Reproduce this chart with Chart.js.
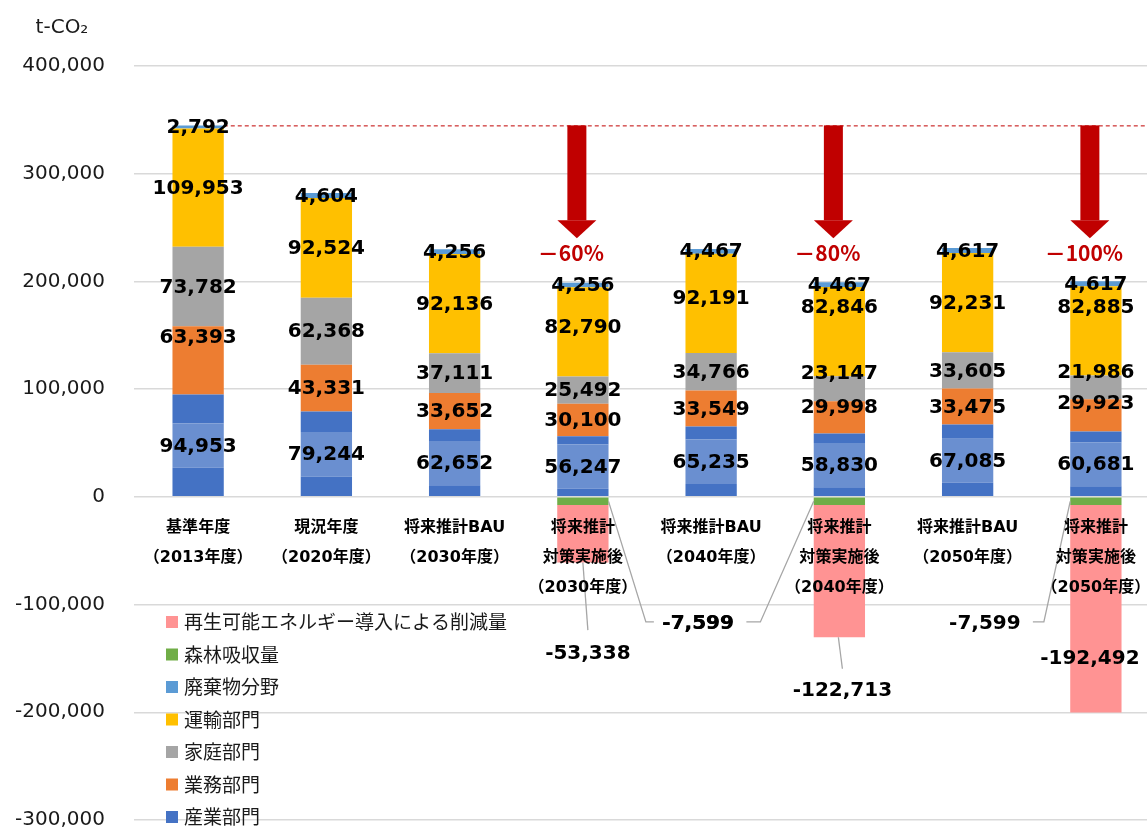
<!DOCTYPE html>
<html><head><meta charset="utf-8">
<script src="https://cdn.jsdelivr.net/npm/chart.js@4.4.1/dist/chart.umd.min.js"></script>
<style>
html,body{margin:0;padding:0;background:#fff;overflow:hidden;width:1147px;height:828px;}
canvas{display:block;}
</style></head>
<body><canvas id="c" width="1162" height="861"></canvas>
<script>
// ---- data ----
const categories = [
  ['基準年度','（2013年度）'],
  ['現況年度','（2020年度）'],
  ['将来推計BAU','（2030年度）'],
  ['将来推計','対策実施後','（2030年度）'],
  ['将来推計BAU','（2040年度）'],
  ['将来推計','対策実施後','（2040年度）'],
  ['将来推計BAU','（2050年度）'],
  ['将来推計','対策実施後','（2050年度）']
];
const industryTotal  = [94953, 79244, 62652, 56247, 65235, 58830, 67085, 60681];
const industryLower  = [27000, 19000, 10800, 7500, 12000, 8900, 13000, 9800];
const industryMiddle = [41000, 41200, 41000, 41000, 41200, 41000, 41000, 41000];
const industryUpper  = [26953, 19044, 10852, 7747, 12035, 8930, 13085, 9881];
const commercial = [63393, 43331, 33652, 30100, 33549, 29998, 33475, 29923];
const household  = [73782, 62368, 37111, 25492, 34766, 23147, 33605, 21986];
const transport  = [109953, 92524, 92136, 82790, 92191, 82846, 92231, 82885];
const waste      = [2792, 4604, 4256, 4256, 4467, 4467, 4617, 4617];
const forest     = [null, null, null, -7599, null, -7599, null, -7599];
const renewable  = [null, null, null, -53338, null, -122713, null, -192492];
const reductionRate = [null, null, null, '－60%', null, '－80%', null, '－100%'];
const yTicks = [-300000, -200000, -100000, 0, 100000, 200000, 300000, 400000];
const unitLabel = 't-CO₂';

const fmt = v => (v < 0 ? '-' : '') + Math.abs(v).toLocaleString('en-US');
const LATIN = '"DejaVu Sans", "Noto Sans CJK JP", sans-serif';
const CJK = '"Noto Sans CJK JP", "DejaVu Sans", sans-serif';

// manual label nudges (px) as placed in the original
const labelNudge = {
  com: {0:-24, 5:-11, 7:-13},
  hh:  {5:-16, 7:-16},
  tr:  {3:-5, 4:-6, 5:-25, 7:-24}
};

const datasets = [
  {key:'indL', label:'産業部門', data: industryLower, backgroundColor:'#4472C4', legend:false},
  {key:'indM', label:'産業部門', data: industryMiddle, backgroundColor:'#6A8FD0', legend:false, labels: industryTotal},
  {key:'indU', label:'産業部門', data: industryUpper, backgroundColor:'#4472C4', legend:true, legendColor:'#4472C4'},
  {key:'com', label:'業務部門', data: commercial, backgroundColor:'#ED7D31', legend:true, labels: commercial},
  {key:'hh', label:'家庭部門', data: household, backgroundColor:'#A5A5A5', legend:true, labels: household},
  {key:'tr', label:'運輸部門', data: transport, backgroundColor:'#FFC000', legend:true, labels: transport},
  {key:'ws', label:'廃棄物分野', data: waste, backgroundColor:'#5B9BD5', legend:true, labels: waste},
  {key:'fo', label:'森林吸収量', data: forest, backgroundColor:'#70AD47', legend:true},
  {key:'re', label:'再生可能エネルギー導入による削減量', data: renewable, backgroundColor:'#FF9393', legend:true}
];

const overlay = {
  id:'overlay',
  afterDatasetsDraw(chart){
    const ctx = chart.ctx, xs = chart.scales.x, ys = chart.scales.y, area = chart.chartArea;
    const metaOf = k => chart.getDatasetMeta(chart.data.datasets.findIndex(d=>d.key===k));
    ctx.save();
    const baseTotal = industryTotal[0]+commercial[0]+household[0]+transport[0]+waste[0];
    const yb = ys.getPixelForValue(baseTotal);
    const bar0 = metaOf('ws').data[0];
    ctx.strokeStyle = '#C00000'; ctx.lineWidth = 1; ctx.setLineDash([4,3]);
    ctx.beginPath(); ctx.moveTo(bar0.x + bar0.width/2, yb+0.5); ctx.lineTo(area.right, yb+0.5); ctx.stroke();
    ctx.setLineDash([]);
    reductionRate.forEach((r,i)=>{
      if(!r) return;
      const cx = xs.getPixelForValue(i) - 6;
      const tipY = ys.getPixelForValue(240000);
      const headBase = tipY - 18;
      ctx.fillStyle = '#C00000';
      ctx.fillRect(cx-9.5, yb, 19, headBase - yb);
      ctx.beginPath(); ctx.moveTo(cx-19.5, headBase); ctx.lineTo(cx+19.5, headBase); ctx.lineTo(cx, tipY); ctx.closePath(); ctx.fill();
      ctx.font = 'bold 21px ' + CJK; ctx.textAlign='center'; ctx.textBaseline='middle';
      ctx.fillText(r, cx - 6, ys.getPixelForValue(226500));
    });
    ctx.fillStyle = '#000'; ctx.font = 'bold 20px ' + LATIN; ctx.textAlign='center'; ctx.textBaseline='middle';
    chart.data.datasets.forEach((ds, di)=>{
      if(!ds.labels) return;
      const meta = chart.getDatasetMeta(di);
      const nud = labelNudge[ds.key] || {};
      meta.data.forEach((el, i)=>{
        if(ds.data[i]==null) return;
        ctx.fillText(fmt(ds.labels[i]), el.x, (el.y + el.base)/2 + 1 + (nud[i]||0));
      });
    });
    ctx.strokeStyle = '#A6A6A6'; ctx.lineWidth = 1.3;
    const fo = metaOf('fo'), re = metaOf('re');
    const line = pts => { ctx.beginPath(); ctx.moveTo(pts[0][0],pts[0][1]); pts.slice(1).forEach(p=>ctx.lineTo(p[0],p[1])); ctx.stroke(); };
    const fy = ys.getPixelForValue(-118000);
    let e = fo.data[3];
    line([[e.x+e.width/2, (e.y+e.base)/2],[e.x+63, fy-2],[e.x+71, fy-2]]);
    ctx.fillText(fmt(forest[3]), e.x+115, fy);
    e = fo.data[5];
    line([[e.x-e.width/2, (e.y+e.base)/2],[e.x-79, fy-2],[e.x-93, fy-2]]);
    ctx.fillText(fmt(forest[5]), e.x-141, fy);
    e = fo.data[7];
    line([[e.x-e.width/2, (e.y+e.base)/2],[e.x-52, fy-2],[e.x-63, fy-2]]);
    ctx.fillText(fmt(forest[7]), e.x-111, fy);
    e = re.data[3];
    let ly = ys.getPixelForValue(-146000);
    line([[e.x, e.y],[e.x+5, ly-24]]);
    ctx.fillText(fmt(renewable[3]), e.x+5, ly);
    e = re.data[5];
    ly = ys.getPixelForValue(-180000);
    line([[e.x-1, e.y],[e.x+3, ly-22]]);
    ctx.fillText(fmt(renewable[5]), e.x+3, ly);
    e = re.data[7];
    ly = ys.getPixelForValue(-150500);
    ctx.fillText(fmt(renewable[7]), e.x-6, ly);
    ctx.font = 'bold 16px ' + LATIN; ctx.fillStyle = '#000';
    const y0 = ys.getPixelForValue(0);
    categories.forEach((lines, i)=>{
      const x = xs.getPixelForValue(i);
      lines.forEach((t, k)=> ctx.fillText(t, x, y0 + 31 + k*30));
    });
    ctx.font = '20px ' + LATIN; ctx.fillStyle='#1a1a1a';
    ctx.fillText(unitLabel, 62, 28);
    ctx.font = '19px ' + CJK; ctx.textAlign='left';
    const items = chart.data.datasets.filter(d=>d.legend).slice().reverse();
    items.forEach((d, k)=>{
      const y = 622 + k*32.5;
      ctx.fillStyle = d.legendColor || d.backgroundColor;
      ctx.fillRect(166, y-6, 12, 12);
      ctx.fillStyle = '#1a1a1a';
      ctx.fillText(d.label, 184, y);
    });
    ctx.restore();
  }
};

new Chart(document.getElementById('c'), {
  type:'bar',
  data:{ labels: categories.map(c=>c.join(' ')), datasets },
  options:{
    responsive:false, animation:false,
    layout:{ padding:{ top:66, bottom:8, left:0, right:2 } },
    plugins:{ legend:{display:false}, tooltip:{enabled:false} },
    datasets:{ bar:{ categoryPercentage:1, barPercentage:0.4, borderWidth:0 } },
    scales:{
      x:{ stacked:true, display:false, grid:{display:false} },
      y:{
        stacked:true, min:-300000, max:400000,
        afterFit(s){ s.width = 134; },
        afterBuildTicks(s){ s.ticks = yTicks.map(v=>({value:v})); },
        border:{display:false},
        grid:{ color:'#D9D9D9', lineWidth:1.5, drawTicks:false },
        ticks:{ padding:29, color:'#1a1a1a', font:{ family: LATIN, size:20 }, callback: v => v.toLocaleString('en-US') }
      }
    }
  },
  plugins:[overlay]
});
</script></body></html>
